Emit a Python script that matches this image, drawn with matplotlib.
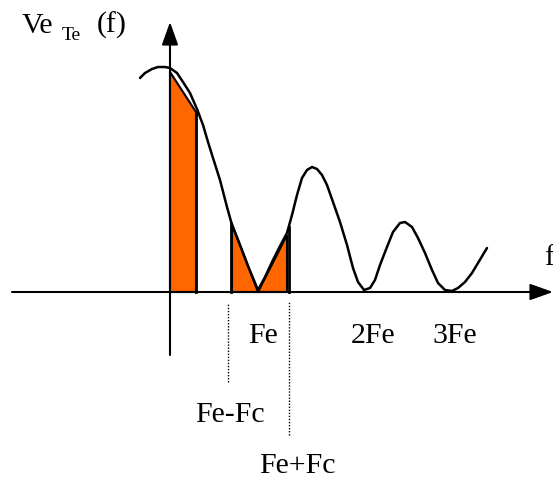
import matplotlib
matplotlib.use("Agg")
import matplotlib.pyplot as plt

# Spectre : f compté depuis l'axe vertical, amplitude au-dessus de l'axe f
curve_f = [-30, -25, -18, -12, -5, 0, 7, 13, 20, 27, 33, 38, 43, 50, 57, 62, 70, 78, 88,
           95, 102, 110, 117, 122, 127, 132, 137, 142, 147, 152, 157, 163, 170, 177, 183,
           188, 194, 200, 205, 210, 217, 223, 230, 235, 242, 248, 255, 262, 268, 275,
           282, 288, 295, 302, 308, 317]
curve_a = [214, 219, 223, 225, 225, 224, 219, 210, 199, 183, 167, 150, 134, 112, 85, 67, 47, 26, 2,
           15, 30, 46, 59, 77, 97, 114, 122, 125, 123, 117, 107, 90, 70, 47, 24,
           10, 2, 4, 12, 27, 45, 60, 69, 70, 65, 54, 39, 22, 9, 2,
           1, 4, 10, 19, 29, 44]

# échantillons (zones orange)
bar1_f = [0, 0, 26, 26]
bar1_a = [0, 220, 180, 0]
bar2_f = [62, 62, 88]
bar2_a = [0, 68, 0]
bar3_f = [88, 117, 117]
bar3_a = [0, 57, 0]

# traits verticaux des échantillons (f, hauteur)
stems = [(26, 180), (61, 69), (119, 65)]

# pointillés sous l'axe (f, bas, haut)
dotted = [(58, -90, -12), (119, -143, -10)]

tick_labels = ["Fe", "2Fe", "3Fe"]
tick_pos = [93, 203, 285]

fig = plt.figure(figsize=(5.53, 5.0), dpi=100)
ax = fig.add_axes([0, 0, 1, 1])
ax.set_xlim(-170, 383)
ax.set_ylim(-208, 292)
ax.axis("off")

orange = "#FF6600"
for xs, ys in [(bar1_f, bar1_a), (bar2_f, bar2_a), (bar3_f, bar3_a)]:
    ax.fill(xs, ys, facecolor=orange, edgecolor="black", lw=1.5, zorder=2)

for f, h in stems:
    ax.plot([f, f], [0, h], color="black", lw=2, zorder=3)

for f, lo, hi in dotted:
    ax.plot([f, f], [lo, hi], color="black", lw=1, linestyle=(0, (1, 1.2)), zorder=1)

ax.plot(curve_f, curve_a, color="black", lw=1.8, solid_joinstyle="round",
        solid_capstyle="round", zorder=4)

# axes fléchés
arrow = dict(arrowstyle="-|>,head_length=0.7,head_width=0.25", lw=1.5,
             color="black", mutation_scale=20, shrinkA=0, shrinkB=0)
ax.annotate("", xy=(383, 0), xytext=(-158, 0), arrowprops=arrow, zorder=5)
ax.annotate("", xy=(0, 270), xytext=(0, -63), arrowprops=arrow, zorder=5)

font = "Liberation Serif"
for lab, pos in zip(tick_labels, tick_pos):
    ax.text(pos, -51, lab, fontsize=21.5, family=font, ha="center", va="baseline")
ax.text(60, -130, "Fe-Fc", fontsize=21.5, family=font, ha="center", va="baseline")
ax.text(127, -181, "Fe+Fc", fontsize=21.5, family=font, ha="center", va="baseline")
ax.text(374, 27, "f", fontsize=21.5, family=font, ha="left", va="baseline")

ax.text(-148, 259, "Ve", fontsize=21.5, family=font, ha="left", va="baseline")
ax.text(-108, 252, "Te", fontsize=14, family=font, ha="left", va="baseline")
ax.text(-73, 259, "(f)", fontsize=21.5, family=font, ha="left", va="baseline")

fig.savefig("out.png", dpi=100)
